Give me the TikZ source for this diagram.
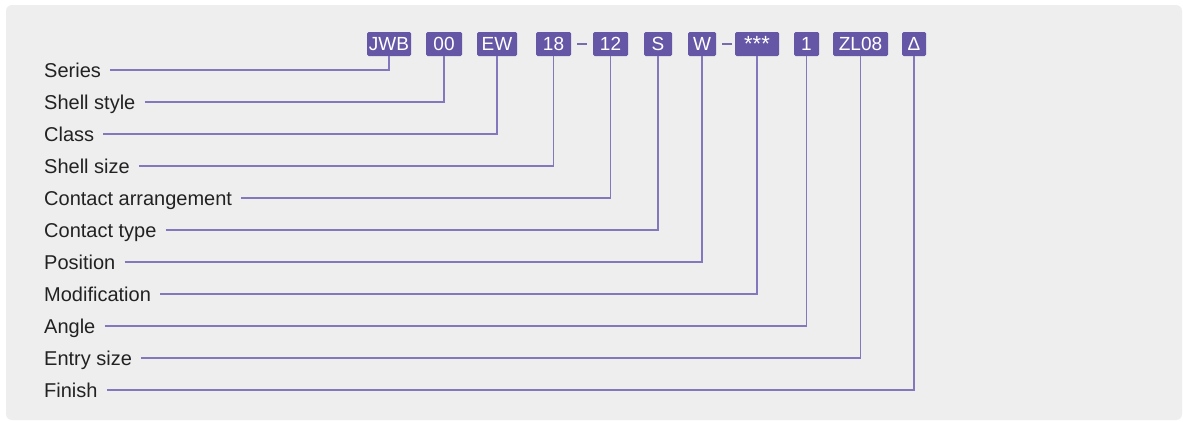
\documentclass[tikz,border=0pt]{standalone}
\usepackage{fontspec}
\setmainfont{Liberation Sans}
\definecolor{bgcol}{HTML}{EEEEEE}
\definecolor{boxcol}{HTML}{6557A6}
\definecolor{linecol}{HTML}{8378BE}
\definecolor{lblcol}{HTML}{222222}
\begin{document}
\begin{tikzpicture}[x=1pt,y=-1pt,
  codebox/.style={fill=boxcol,text=white,rounded corners=1.5pt,inner sep=0pt,
    minimum height=24pt,font=\fontsize{19}{19}\selectfont,anchor=center},
  lbl/.style={anchor=west,inner sep=0pt,text=lblcol,font=\fontsize{20}{20}\selectfont,
    text height=14.3pt,text depth=0pt},
  lead/.style={draw=linecol,line width=1.3pt},
  sep/.style={draw=linecol!90!black,line width=2.6pt}]
\useasboundingbox (0,0) rectangle (1183,421);
\fill[white] (0,0) rectangle (1183,421);
\fill[bgcol,rounded corners=6pt] (6,5) rectangle (1182,420);
% code boxes
\node[codebox,minimum width=44pt] (jwb) at (389,44) {JWB};
\node[codebox,minimum width=36pt] (b00) at (444,44) {00};
\node[codebox,minimum width=40pt] (bew) at (497,44) {EW};
\node[codebox,minimum width=35pt] (b18) at (553.5,44) {18};
\node[codebox,minimum width=35pt] (b12) at (610.5,44) {12};
\node[codebox,minimum width=28pt] (bs) at (658,44) {S};
\node[codebox,minimum width=28pt] (bw) at (702,44) {W};
\node[codebox,minimum width=44pt,font=\fontsize{22}{22}\selectfont] (bstar) at (757,44) {\raisebox{-5pt}{***}};
\node[codebox,minimum width=25pt] (b1) at (806.5,44) {1};
\node[codebox,minimum width=55pt] (bzl) at (860.5,44) {ZL08};
\node[codebox,minimum width=24pt] (btri) at (914,44) {Δ};
% separators
\draw[sep] ([xshift=6pt]b18.east) -- ([xshift=-6pt]b12.west);
\draw[sep] ([xshift=6pt]bw.east) -- ([xshift=-3pt]bstar.west);
% labels
\node[lbl] (l1) at (44,70) {Series};
\node[lbl] (l2) at (44,102) {Shell style};
\node[lbl] (l3) at (44,134) {Class};
\node[lbl] (l4) at (44,166) {Shell size};
\node[lbl] (l5) at (44,198) {Contact arrangement};
\node[lbl] (l6) at (44,230) {Contact type};
\node[lbl] (l7) at (44,262) {Position};
\node[lbl] (l8) at (44,294) {Modification};
\node[lbl] (l9) at (44,326) {Angle};
\node[lbl] (l10) at (44,358) {Entry size};
\node[lbl] (l11) at (44,390) {Finish};
% leader lines
\foreach \l/\b in {l1/jwb,l2/b00,l3/bew,l4/b18,l5/b12,l6/bs,l7/bw,l8/bstar,l9/b1,l10/bzl,l11/btri}
  \draw[lead] ([xshift=9pt]\l.east) -| (\b.south);
\end{tikzpicture}
\end{document}
